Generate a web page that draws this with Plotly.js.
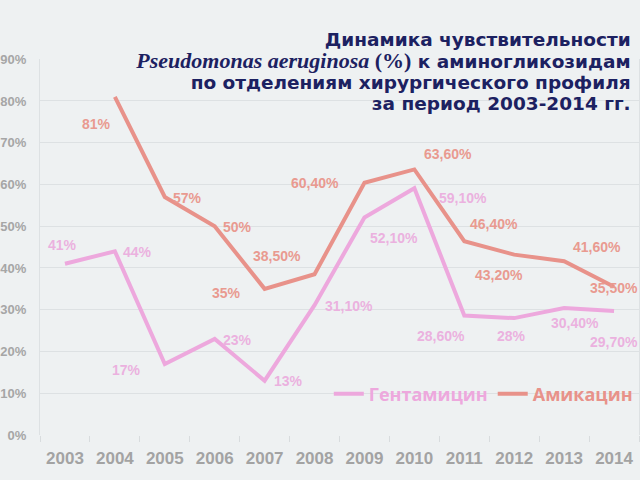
<!DOCTYPE html>
<html>
<head>
<meta charset="utf-8">
<script src="https://cdn.plot.ly/plotly-3.0.1.min.js"></script>
<style>html,body{margin:0;padding:0;background:#eef1f2;}#chart{width:640px;height:480px;}</style>
</head>
<body>
<div id="chart"></div>
<script>
// ---- data ----
var years = ["2003","2004","2005","2006","2007","2008","2009","2010","2011","2012","2013","2014"];
var gentamicin = [41, 44, 17, 23, 13, 31.1, 52.1, 59.1, 28.6, 28, 30.4, 29.7];
var amikacin = [null, 81, 57, 50, 35, 38.5, 60.4, 63.6, 46.4, 43.2, 41.6, 35.5];
var seriesNames = ["Гентамицин", "Амикацин"];

// ---- label offsets (pixels, style only) ----
var gentShiftX = [-2, 23, -38, 23, 24, 34, 30, 49, -23, -3, 11, 0];
var gentShiftY = [19, -1, -6, -1, 0, -1, -21, -10, -20, -18, -15, -31];
var amiShiftX = [0, -18, 23, 23, -38, -38, -49, 34, 30, -15, 33, 0];
var amiShiftY = [0, -27, -1, -1, -4, 18, 0, 15, 17, -20, 14, -1];

var pinkLine = "#eda8dd", pinkText = "#ebb1df";
var salmonLine = "#e8928a", salmonText = "#e99a90";

function fmt(v) {
  if (Math.round(v) === v) return v + "%";
  return v.toFixed(2).replace(".", ",") + "%";
}

var annotations = [];
function addLabels(vals, sx, sy, color) {
  for (var i = 0; i < years.length; i++) {
    if (vals[i] === null) continue;
    annotations.push({
      x: i, y: vals[i], xref: "x", yref: "y",
      text: fmt(vals[i]), showarrow: false,
      xshift: sx[i], yshift: sy[i],
      font: {family: "Liberation Sans, Arial, sans-serif", size: 14, color: color, weight: "bold"}
    });
  }
}
addLabels(gentamicin, gentShiftX, gentShiftY, pinkText);
addLabels(amikacin, amiShiftX, amiShiftY, salmonText);

var traces = [
  {x: years, y: gentamicin, name: "<span style=\"color:" + pinkLine + "\">" + seriesNames[0] + "</span>",
   type: "scatter", mode: "lines", line: {color: pinkLine, width: 4}},
  {x: years, y: amikacin, name: "<span style=\"color:" + salmonLine + "\">" + seriesNames[1] + "</span>",
   type: "scatter", mode: "lines", line: {color: salmonLine, width: 4}}
];

var big = "font-size:18.5px";
var serif = "font-family:'Liberation Serif','Times New Roman',serif;font-size:22px";
var titleText =
  "<b><span style=\"" + big + "\">Динамика чувствительности</span></b><br>" +
  "<b><span style=\"" + serif + "\"><i>Pseudomonas aeruginosa</i> (%)</span><span style=\"" + big + "\"> к аминогликозидам</span></b><br>" +
  "<b><span style=\"" + big + "\">по отделениям хирургического профиля</span></b><br>" +
  "<b><span style=\"" + big + "\">за период 2003-2014 гг.</span></b>";

var layout = {
  width: 640, height: 480,
  paper_bgcolor: "#eef1f2", plot_bgcolor: "#eef1f2",
  margin: {l: 40, r: 1, t: 59, b: 45},
  showlegend: true,
  legend: {orientation: "h", x: 0.998, xanchor: "right", y: 0.109, yanchor: "middle",
    bgcolor: "rgba(0,0,0,0)", itemwidth: 30, traceorder: "normal",
    font: {family: "Open Sans, sans-serif", size: 18, color: "#e58fa0", weight: "bold"}},
  title: {text: titleText, x: 0.986, xanchor: "right", xref: "paper",
    y: 0.904, yanchor: "top", yref: "container",
    font: {family: "DejaVu Sans, sans-serif", size: 16.5, color: "#1c2161"}},
  xaxis: {type: "category", categoryorder: "array", categoryarray: years,
    range: [-0.5, years.length - 0.5], autorange: false,
    showgrid: false, zeroline: false,
    ticks: "outside", tickson: "boundaries", ticklen: 6, tickcolor: "#d8dcde",
    showline: false, ticklabelstandoff: 11,
    tickfont: {family: "Liberation Sans, Arial, sans-serif", size: 17, color: "#a3a3a3", weight: "bold"}},
  yaxis: {range: [0, 90.05], autorange: false, dtick: 10, ticksuffix: "%", showgrid: true, gridcolor: "#dde1e3", gridwidth: 1,
    zeroline: false, showline: true, linecolor: "#dde1e3", mirror: true, ticks: "",
    ticklabelstandoff: 10,
    tickfont: {family: "Liberation Sans, Arial, sans-serif", size: 13, color: "#a6a6a6", weight: "bold"}},
  annotations: annotations
};

Plotly.newPlot("chart", traces, layout, {staticPlot: true});
</script>
</body>
</html>
